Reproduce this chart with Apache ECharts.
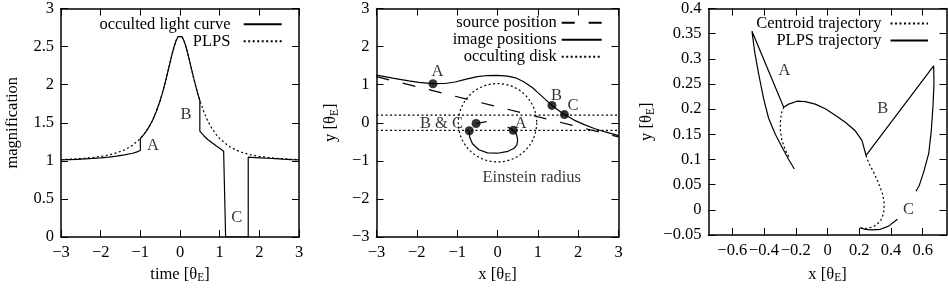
<!DOCTYPE html>
<html><head><meta charset="utf-8">
<script src="https://cdn.jsdelivr.net/npm/echarts@6/dist/echarts.min.js"></script>
<style>html,body{margin:0;padding:0;background:#fff}#c{width:948px;height:289px}</style>
</head><body><div id="c"></div>
<script>
// ---------- Panel 1: light curve ----------
const plpsT = [-3,-2.8,-2.6,-2.4,-2.2,-2,-1.8,-1.6,-1.4,-1.2,-1,-0.9,-0.8,-0.7,-0.6,-0.5,-0.45,-0.4,-0.35,-0.3,-0.25,-0.2,-0.15,-0.1,-0.05,0,0.05,0.1,0.15,0.2,0.25,0.3,0.35,0.4,0.45,0.5,0.6,0.7,0.8,0.9,1,1.2,1.4,1.6,1.8,2,2.2,2.4,2.6,2.8,3];
const plpsM = [1.016,1.021,1.026,1.034,1.044,1.057,1.077,1.104,1.144,1.203,1.292,1.353,1.429,1.524,1.644,1.792,1.879,1.973,2.075,2.183,2.293,2.400,2.498,2.577,2.630,2.648,2.630,2.577,2.498,2.400,2.293,2.183,2.075,1.973,1.879,1.792,1.644,1.524,1.429,1.353,1.292,1.203,1.144,1.104,1.077,1.057,1.044,1.034,1.026,1.021,1.016];
const occT = [-3,-2.6,-2.2,-2,-1.8,-1.6,-1.4,-1.2,-1.1,-1,-1,-0.9,-0.8,-0.7,-0.6,-0.5,-0.45,-0.4,-0.35,-0.3,-0.25,-0.2,-0.15,-0.1,-0.05,0,0.05,0.1,0.15,0.2,0.25,0.3,0.35,0.4,0.45,0.5,0.5,0.6,0.7,0.8,0.9,1,1.1,1.15,1.15,1.72,1.72,1.8,2,2.2,2.4,2.6,2.8,3];
const occM = [1.013,1.02,1.031,1.039,1.049,1.062,1.078,1.1,1.115,1.135,1.292,1.353,1.429,1.524,1.644,1.792,1.879,1.973,2.075,2.183,2.293,2.4,2.498,2.577,2.63,2.648,2.63,2.577,2.498,2.4,2.293,2.183,2.075,1.973,1.879,1.792,1.39,1.33,1.28,1.24,1.2,1.165,1.125,1.11,0,0,1.048,1.046,1.04,1.034,1.028,1.022,1.017,1.013];
const lcLabelText = ['A','B','C'];
const lcLabelT = [-0.68, 0.15, 1.43];
const lcLabelM = [1.2, 1.61, 0.25];
const lcTicksX = [-3,-2,-1,0,1,2,3];
const lcTicksY = [0,0.5,1,1.5,2,2.5,3];

// ---------- Panel 2: positions ----------
const srcX = [-3, 3];
const srcY = [1.21, -0.37];
const majX = [-3.0,-2.6,-2.2,-1.95,-1.6,-1.3,-1.05,-0.8,-0.5,-0.25,0,0.25,0.45,0.65,0.87,1.0,1.2,1.35,1.5,1.66,1.9,2.15,2.4,2.65,3.0];
const majY = [1.25,1.17,1.10,1.06,1.025,1.03,1.07,1.14,1.21,1.24,1.245,1.225,1.18,1.075,0.92,0.79,0.6,0.455,0.335,0.215,0.07,-0.05,-0.15,-0.235,-0.34];
const min1X = [0.25,0.39,0.47,0.50,0.48,0.41,0.26,0.0,-0.25,-0.46,-0.62,-0.69,-0.70];
const min1Y = [-0.11,-0.20,-0.30,-0.45,-0.58,-0.67,-0.75,-0.80,-0.79,-0.71,-0.55,-0.38,-0.21];
const min2X = [-0.53,-0.27];
const min2Y = [-0.02,0.03];
const ptX = [-1.6,1.35,1.66,0.39,-0.70,-0.53];
const ptY = [1.025,0.455,0.215,-0.20,-0.21,-0.02];
const diskEdgeY = [0.2,-0.2];
const ringR = 1;
const posLabelText = ['A','B','C','B & C','A','Einstein radius'];
const posLabelX = [-1.49,1.46,1.87,-1.39,0.575,0.85];
const posLabelY = [1.35,0.72,0.45,-0.02,-0.03,-1.44];
const posTicks = [-3,-2,-1,0,1,2,3];

// ---------- Panel 3: trajectories ----------
const plpsTrajX = [-0.209,-0.245,-0.287,-0.329,-0.371,-0.402,-0.434,-0.459,-0.476,-0.276,-0.245,-0.192,-0.14,-0.077,-0.014,0.049,0.112,0.175,0.217,0.243,0.669,0.671,0.665,0.654,0.638,0.606,0.579,0.558];
const plpsTrajY = [0.081,0.1,0.125,0.15,0.182,0.22,0.27,0.314,0.355,0.204,0.21,0.2158,0.215,0.21,0.2007,0.188,0.174,0.157,0.138,0.108,0.286,0.251,0.207,0.157,0.112,0.075,0.049,0.037];
const plpsTrajCX = [0.205,0.238,0.28,0.333,0.385,0.441];
const plpsTrajCY = [-0.0355,-0.0387,-0.04,-0.0387,-0.0324,-0.0186];
const centAX = [-0.276,-0.291,-0.297,-0.297,-0.287,-0.266,-0.24];
const centAY = [0.204,0.1914,0.1752,0.157,0.138,0.119,0.103];
const centBX = [0.243,0.259,0.291,0.322,0.348,0.358,0.354,0.333,0.291,0.238,0.21];
const centBY = [0.108,0.0937,0.0748,0.0527,0.0307,0.0118,-0.0071,-0.0229,-0.0336,-0.0374,-0.036];
const trLabelText = ['A','B','C'];
const trLabelX = [-0.272,0.348,0.511];
const trLabelY = [0.276,0.201,0.0];
const trTicksX = [-0.6,-0.4,-0.2,0,0.2,0.4,0.6];
const trTicksY = [-0.05,0,0.05,0.1,0.15,0.2,0.25,0.3,0.35,0.4];

// ---------- helpers ----------
const FONT = '"Liberation Serif","DejaVu Serif",serif';
const FS = 16.5;
const zip = (a, b) => a.map((v, i) => [v, b[i]]);
const fmt = v => { const s = String(Math.round(v * 1000) / 1000); return s.replace('-', '\u2212'); };
const rich = { s: { fontFamily: FONT, fontSize: 11.5, color: '#000', verticalAlign: 'bottom', padding: [7, 0, 0, 0] } };
const nameStyle = { fontFamily: FONT, fontSize: FS, color: '#000', rich: rich };
const DOT = [2, 2.5];

function xAxes(gi, min, max, ticks, name, nameGap) {
  const base = {
    type: 'value', gridIndex: gi, min: min, max: max,
    axisLine: { show: true, onZero: false, lineStyle: { color: '#000', width: 1.5 } },
    axisTick: { show: true, inside: true, length: 7, customValues: ticks, lineStyle: { color: '#000', width: 1 } },
    splitLine: { show: false }
  };
  return [
    Object.assign({}, base, { position: 'bottom',
      axisLabel: { show: true, customValues: ticks, formatter: fmt, margin: 7, color: '#000', fontFamily: FONT, fontSize: FS },
      name: name, nameLocation: 'middle', nameGap: nameGap, nameTextStyle: nameStyle }),
    Object.assign({}, base, { position: 'top', axisLabel: { show: false } })
  ];
}
function yAxes(gi, min, max, ticks, name, nameGap) {
  const base = {
    type: 'value', gridIndex: gi, min: min, max: max,
    axisLine: { show: true, onZero: false, lineStyle: { color: '#000', width: 1.5 } },
    axisTick: { show: true, inside: true, length: 7, customValues: ticks, lineStyle: { color: '#000', width: 1 } },
    splitLine: { show: false }
  };
  return [
    Object.assign({}, base, { position: 'left',
      axisLabel: { show: true, customValues: ticks, formatter: fmt, margin: 7, color: '#000', fontFamily: FONT, fontSize: FS },
      name: name, nameLocation: 'middle', nameGap: nameGap, nameTextStyle: nameStyle }),
    Object.assign({}, base, { position: 'right', axisLabel: { show: false } })
  ];
}
function line(name, gi, data, type, z) {
  return { type: 'line', name: name, xAxisIndex: gi * 2, yAxisIndex: gi * 2, data: data,
    symbol: 'none', showSymbol: false, smooth: false, z: z, silent: true,
    itemStyle: { color: '#000' },
    lineStyle: { color: '#000', width: 1.2, type: type } };
}
function labels(gi, xs, ys, texts) {
  return { type: 'scatter', xAxisIndex: gi * 2, yAxisIndex: gi * 2, silent: true, z: 6,
    data: xs.map((x, i) => [x, ys[i], texts[i]]), symbolSize: 1,
    itemStyle: { color: 'rgba(0,0,0,0)' },
    label: { show: true, position: 'inside', formatter: p => p.value[2], color: '#000', fontFamily: FONT, fontSize: FS } };
}
function legend(names, right, top, itemWidth, spaces) {
  return { data: names, orient: 'vertical', right: right, top: top, align: 'right', padding: 0,
    itemWidth: itemWidth, itemHeight: 10, itemGap: 0, selectedMode: false,
    itemStyle: { color: 'rgba(0,0,0,0)', borderColor: 'rgba(0,0,0,0)', borderWidth: 0, opacity: 0 },
    formatter: n => n + spaces,
    textStyle: { fontFamily: FONT, fontSize: FS, color: '#000', lineHeight: 15.5 } };
}

const series = [
  line('PLPS', 0, zip(plpsT, plpsM), DOT, 2),
  line('occulted light curve', 0, zip(occT, occM), 'solid', 3),
  labels(0, lcLabelT, lcLabelM, lcLabelText),

  line('source position', 1, zip(srcX, srcY), [13, 14], 2),
  line('image positions', 1, zip(majX, majY), 'solid', 3),
  line('image positions', 1, zip(min1X, min1Y), 'solid', 3),
  line('image positions', 1, zip(min2X, min2Y), 'solid', 3),
  line('occulting disk', 1, [[posTicks[0], diskEdgeY[0]], [posTicks[6], diskEdgeY[0]]], DOT, 2),
  line('occulting disk', 1, [[posTicks[0], diskEdgeY[1]], [posTicks[6], diskEdgeY[1]]], DOT, 2),
  { type: 'custom', xAxisIndex: 2, yAxisIndex: 2, silent: true, z: 2,
    data: [[0, 0, ringR]],
    renderItem: (params, api) => {
      const c = api.coord([api.value(0), api.value(1)]);
      const s = api.size([api.value(2), api.value(2)]);
      return { type: 'circle', shape: { cx: c[0], cy: c[1], r: (s[0] + s[1]) / 2 },
        style: { fill: 'none', stroke: '#000', lineWidth: 1.2, lineDash: DOT } };
    } },
  { type: 'scatter', xAxisIndex: 2, yAxisIndex: 2, silent: true, z: 5, data: zip(ptX, ptY),
    symbol: 'circle', symbolSize: 9, itemStyle: { color: '#000' } },
  labels(1, posLabelX, posLabelY, posLabelText),

  line('Centroid trajectory', 2, zip(centAX, centAY), DOT, 2),
  line('Centroid trajectory', 2, zip(centBX, centBY), DOT, 2),
  line('PLPS trajectory', 2, zip(plpsTrajX, plpsTrajY), 'solid', 3),
  line('PLPS trajectory', 2, zip(plpsTrajCX, plpsTrajCY), 'solid', 3),
  labels(2, trLabelX, trLabelY, trLabelText)
];

const option = {
  animation: false,
  backgroundColor: '#fff',
  grid: [
    { left: 61, top: 6.5, width: 238, height: 238.5 },
    { left: 376.5, top: 5.5, width: 242, height: 239.5 },
    { left: 708.5, top: 4.6, width: 238, height: 238 }
  ],
  xAxis: [].concat(
    xAxes(0, -3, 3, lcTicksX, 'time [\u03b8{s|E}]', 28),
    xAxes(1, -3, 3, posTicks, 'x [\u03b8{s|E}]', 28),
    xAxes(2, -0.75, 0.75, trTicksX, 'x [\u03b8{s|E}]', 30)
  ),
  yAxis: [].concat(
    yAxes(0, 0, 3, lcTicksY, 'magnification', 40),
    yAxes(1, -3, 3, posTicks, 'y [\u03b8{s|E}]', 36),
    yAxes(2, -0.05, 0.4, trTicksY, 'y [\u03b8{s|E}]', 52)
  ),
  legend: [
    legend(['occulted light curve', 'PLPS'], 665.3, 15.75, 38, '  '),
    legend(['source position', 'image positions', 'occulting disk'], 345.3, 14.25, 40, ''),
    legend(['Centroid trajectory', 'PLPS trajectory'], 19, 15, 37.5, ' ')
  ],
  series: series
};
const chart = echarts.init(document.getElementById('c'), null, { renderer: 'canvas' });
chart.setOption(option);
</script>
</body></html>
